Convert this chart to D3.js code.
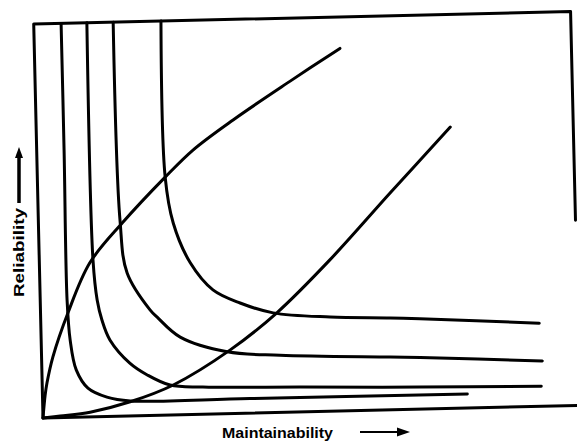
<!DOCTYPE html>
<html><head><meta charset="utf-8">
<script src="https://cdn.jsdelivr.net/npm/d3@7"></script>
<style>html,body{margin:0;padding:0;background:#fff;} svg{display:block}</style>
</head><body>
<svg id="chart" width="577" height="443"></svg>
<script>
// Iso-availability curves: maintainability (M) vs reliability (R), 0-100 relative scale
const iso1M = [5.1, 5.1, 5.0, 5.4, 6.4, 8.5, 12.0, 16.3, 38.6, 79.1];
const iso1R = [100, 67.9, 29.8, 19.6, 12.0, 7.3, 4.9, 3.8, 3.7, 3.55];
const iso2M = [9.9, 10.0, 10.6, 11.4, 12.8, 16.4, 19.6, 23.8, 29.9, 48.0, 70.3, 92.9];
const iso2R = [100, 39.8, 29.6, 24.5, 19.4, 13.4, 10.3, 7.6, 6.9, 6.3, 5.6, 5.1];
const iso3M = [14.8, 15.2, 16.3, 20.4, 21.7, 25.9, 34.6, 44.4, 64.9, 70.5, 93.2];
const iso3R = [100, 49.8, 36.3, 26.8, 24.9, 19.7, 15.7, 14.5, 13.4, 13.1, 11.5];
const iso4M = [23.7, 23.8, 25.1, 28.1, 32.2, 37.2, 43.3, 53.9, 65.1, 70.6, 92.8];
const iso4R = [100, 60.4, 48.7, 38.5, 31.5, 28.0, 25.3, 23.9, 23.3, 22.9, 21.1];
// Rising trade-off curves
const riseAM = [0, 0.5, 0.9, 2.1, 5.1, 9.4, 15.6, 23.8, 29.1, 36.7, 47.5, 56.9];
const riseAR = [0, 5.8, 8.9, 15.4, 26.5, 39.1, 49.0, 60.4, 67.1, 74.5, 84.0, 92.0];
const riseBM = [0, 3.2, 8.8, 16.3, 24.4, 35.1, 44.0, 54.1, 65.6, 77.1];
const riseBR = [0, 0.4, 1.2, 3.6, 7.6, 16.1, 25.3, 38.4, 55.0, 71.4];
// Frame (axes box)
const frameM = [0, 0, 102, null, 0, 100, 100];
const frameR = [100, 0, 0, null, 100, 100, 47];
const xLabel = "Maintainability";
const yLabel = "Reliability";

const W = 537, H = 394;
const svg = d3.select("#chart");
const x = d3.scaleLinear().domain([0, 100]).range([0, W]);
const y = d3.scaleLinear().domain([0, 100]).range([H, 0]);

const g = svg.append("g")
  .attr("transform", "translate(43,418) rotate(-1.35) translate(0," + (-H) + ")");

const zip = (a, b) => a.map((v, i) => [v, b[i]]);
const curveLine = d3.line().x(d => x(d[0])).y(d => y(d[1])).curve(d3.curveCatmullRom.alpha(0.5));
const straight = d3.line().defined(d => d[0] !== null).x(d => x(d[0])).y(d => y(d[1]));

g.append("path").attr("d", straight(zip(frameM, frameR)))
  .attr("fill", "none").attr("stroke", "#000").attr("stroke-width", 3)
  .attr("stroke-linejoin", "round").attr("stroke-linecap", "round");

[[iso1M, iso1R], [iso2M, iso2R], [iso3M, iso3R], [iso4M, iso4R], [riseAM, riseAR], [riseBM, riseBR]]
  .forEach(([m, r]) => {
    g.append("path").attr("d", curveLine(zip(m, r)))
      .attr("fill", "none").attr("stroke", "#000").attr("stroke-width", 3)
      .attr("stroke-linecap", "round").attr("stroke-linejoin", "round");
  });

// Axis labels
svg.append("text").text(xLabel)
  .attr("x", 222).attr("y", 438)
  .attr("font-family", "Liberation Sans, Arial, sans-serif")
  .attr("font-weight", "bold").attr("font-size", 14)
  .attr("textLength", 111).attr("lengthAdjust", "spacingAndGlyphs")
  .attr("fill", "#000");
svg.append("line").attr("x1", 360).attr("y1", 432).attr("x2", 400).attr("y2", 432)
  .attr("stroke", "#000").attr("stroke-width", 2);
svg.append("path").attr("d", "M410,432 L397,427.5 L397,436.5 Z").attr("fill", "#000");

svg.append("text").text(yLabel)
  .attr("transform", "translate(24,297) rotate(-90)")
  .attr("font-family", "Liberation Sans, Arial, sans-serif")
  .attr("font-weight", "bold").attr("font-size", 14)
  .attr("textLength", 89).attr("lengthAdjust", "spacingAndGlyphs")
  .attr("fill", "#000");
svg.append("line").attr("x1", 19).attr("y1", 203).attr("x2", 19).attr("y2", 156)
  .attr("stroke", "#000").attr("stroke-width", 3.5);
svg.append("path").attr("d", "M19,147 L15,158 L23,158 Z").attr("fill", "#000");
</script>
</body></html>
